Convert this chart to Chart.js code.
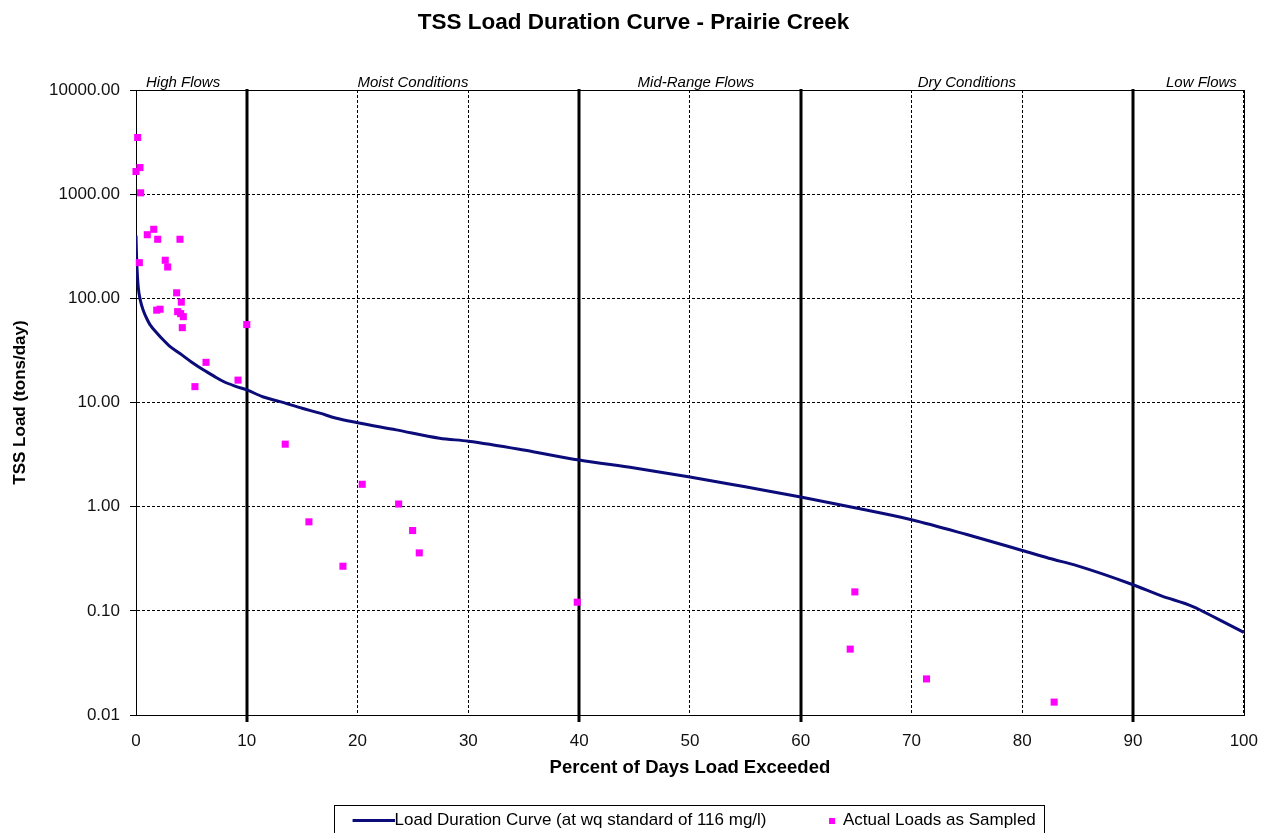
<!DOCTYPE html>
<html><head><meta charset="utf-8">
<script src="https://cdn.jsdelivr.net/npm/chart.js@4"></script>
<style>html,body{margin:0;padding:0;background:#fff}</style>
</head><body>
<canvas id="c" width="1267" height="833"></canvas>
<script>
// ---- data ----
const curvePercent = [0, 0.05, 0.1, 0.2, 0.4, 0.65, 1.0, 1.26, 2.0, 2.45, 3.0, 3.97, 5.0, 6.07, 7.0, 7.9, 9.0, 10.0, 11.5, 13, 15, 16.6, 18, 20, 23.5, 27.4, 30, 35, 40, 45, 50, 55, 60, 65, 70, 75, 80, 82.4, 85, 90, 92.5, 95.4, 97.5, 100];
const curveLoad    = [400, 250, 187, 129, 95, 77, 63, 56, 45, 40, 35, 29.5, 24.5, 20.6, 18, 15.9, 14.3, 13.2, 11.3, 10.2, 8.8, 7.9, 7.1, 6.4, 5.46, 4.54, 4.25, 3.5, 2.8, 2.35, 1.93, 1.55, 1.24, 0.97, 0.75, 0.54, 0.38, 0.32, 0.27, 0.178, 0.14, 0.11, 0.085, 0.062];
const samplePercent = [0.15, 0.0, 0.36, 0.42, 1.02, 1.60, 1.96, 3.97, 0.30, 2.64, 2.86, 3.67, 4.09, 1.87, 2.17, 3.76, 4.03, 4.27, 4.18, 10.0, 6.32, 9.21, 5.32, 13.47, 20.42, 23.71, 15.61, 24.97, 25.57, 18.68, 39.83, 64.89, 64.47, 71.36, 82.88];
const sampleLoad    = [3500, 1650, 1800, 1030, 408, 460, 369, 369, 220, 232, 200, 113, 92, 77, 78.6, 74.5, 71.3, 66.7, 52.3, 56, 24.3, 16.4, 14.2, 3.98, 1.64, 1.06, 0.715, 0.59, 0.36, 0.268, 0.121, 0.152, 0.0429, 0.0222, 0.0133];
const yTickValues = [0.01, 0.1, 1, 10, 100, 1000, 10000];
const xTickValues = [0, 10, 20, 30, 40, 50, 60, 70, 80, 90, 100];
const regionBounds = [0, 10, 40, 60, 90, 100];
const regionNames = ['High Flows', 'Moist Conditions', 'Mid-Range Flows', 'Dry Conditions', 'Low Flows'];
const titleText = 'TSS Load Duration Curve - Prairie Creek';
const xTitle = 'Percent of Days Load Exceeded';
const yTitle = 'TSS Load (tons/day)';
const seriesNames = ['Load Duration Curve (at wq standard of 116 mg/l)', 'Actual Loads as Sampled'];

// ---- styles ----
const FONT = '"Liberation Sans", Arial, sans-serif';
Chart.defaults.font.family = FONT;
Chart.defaults.color = '#000';
const NAVY = '#0b0b7a';
const MAGENTA = '#ff00ff';

function makeLineImg() {
  const c = document.createElement('canvas'); c.width = 59; c.height = 3;
  const g = c.getContext('2d'); g.fillStyle = NAVY; g.fillRect(17, 0, 42, 3); return c;
}
function makeSquareImg() {
  const c = document.createElement('canvas'); c.width = 59; c.height = 7;
  const g = c.getContext('2d'); g.fillStyle = MAGENTA; g.fillRect(45, 1, 6, 6); return c;
}
const legendImgs = [makeLineImg(), makeSquareImg()];

const overlay = {
  id: 'overlay',
  beforeDatasetsDraw(chart) {
    const {ctx, chartArea: a, scales: {x}} = chart;
    ctx.save();
    ctx.strokeStyle = '#000'; ctx.lineWidth = 3;
    for (let i = 1; i < regionBounds.length - 1; i++) {
      const px = Math.round(x.getPixelForValue(regionBounds[i]));
      ctx.beginPath(); ctx.moveTo(px, a.top - 1); ctx.lineTo(px, a.bottom + 7); ctx.stroke();
    }
    ctx.lineWidth = 1;
    ctx.strokeRect(Math.round(a.left) + 0.5, Math.round(a.top) + 0.5, Math.round(a.right - a.left), Math.round(a.bottom - a.top));
    // region labels
    ctx.font = 'italic 15px ' + FONT; ctx.fillStyle = '#000'; ctx.textBaseline = 'middle';
    for (let i = 0; i < regionNames.length; i++) {
      let px, align;
      if (i === 0) { px = x.getPixelForValue(regionBounds[0]) + 10; align = 'left'; }
      else if (i === regionNames.length - 1) { px = x.getPixelForValue(regionBounds[i + 1]) - 7; align = 'right'; }
      else { px = x.getPixelForValue((regionBounds[i] + regionBounds[i + 1]) / 2) + (i === 2 ? 6 : 0); align = 'center'; }
      ctx.textAlign = align;
      ctx.fillText(regionNames[i], px, a.top - 7);
    }
    ctx.restore();
  },
  afterDraw(chart) {
    const lg = chart.legend;
    if (!lg || !lg.legendHitBoxes || !lg.legendHitBoxes.length) return;
    const hb = lg.legendHitBoxes;
    const l = hb[0].left - 10, r = hb[hb.length - 1].left + hb[hb.length - 1].width + 8;
    const t = hb[0].top - 7;
    const ctx = chart.ctx;
    ctx.save(); ctx.strokeStyle = '#000'; ctx.lineWidth = 1;
    ctx.strokeRect(Math.round(l) + 0.5, Math.round(t) + 0.5, Math.round(r - l), chart.height + 10);
    ctx.restore();
  }
};

new Chart(document.getElementById('c'), {
  type: 'scatter',
  data: {
    datasets: [
      {
        label: seriesNames[0], type: 'line',
        data: curvePercent.map((p, i) => ({x: p, y: curveLoad[i]})),
        borderColor: NAVY, backgroundColor: NAVY, borderWidth: 3,
        pointRadius: 0, cubicInterpolationMode: 'monotone', fill: false, order: 2
      },
      {
        label: seriesNames[1],
        data: samplePercent.map((p, i) => ({x: p, y: sampleLoad[i]})),
        pointStyle: 'rect', pointRadius: 5, backgroundColor: MAGENTA, borderColor: MAGENTA, borderWidth: 0,
        clip: false, order: 1
      }
    ]
  },
  options: {
    responsive: false, animation: false, devicePixelRatio: 1,
    layout: {padding: {left: 0, right: 0, top: 0, bottom: -6}},
    plugins: {
      title: {display: true, text: titleText, font: {size: 22.5, weight: 'bold'}, color: '#000',
              padding: {top: 9, bottom: 54}},
      tooltip: {enabled: false},
      legend: {
        position: 'bottom', fullSize: false,
        labels: {
          usePointStyle: true, pointStyleWidth: 42, padding: 26,
          font: {size: 17}, color: '#000',
          generateLabels: (chart) => chart.data.datasets.map((ds, i) => ({
            text: ds.label, pointStyle: legendImgs[i], datasetIndex: i,
            fillStyle: ds.backgroundColor, strokeStyle: ds.borderColor, lineWidth: 0, hidden: false
          }))
        }
      }
    },
    scales: {
      x: {
        type: 'linear', min: 0, max: 100,
        afterBuildTicks: (s) => { s.ticks = xTickValues.map(v => ({value: v})); },
        afterFit: (s) => { s.height = 71; },
        ticks: {font: {size: 17}, color: '#111', padding: 9, maxRotation: 0, autoSkip: false},
        grid: {color: '#000', lineWidth: 1, drawTicks: true, tickLength: 7, tickColor: 'rgba(0,0,0,0)'},
        border: {display: true, color: '#000', width: 1, dash: [3, 2]},
        title: {display: true, text: xTitle, font: {size: 18.5, weight: 'bold'}, color: '#000', padding: {top: 0, bottom: 7}}
      },
      y: {
        type: 'logarithmic', min: 0.01, max: 10000,
        afterBuildTicks: (s) => { s.ticks = yTickValues.map(v => ({value: v})); },
        afterFit: (s) => { s.width = 136; },
        ticks: {font: {size: 17}, color: '#111', padding: 10, callback: (v) => Number(v).toFixed(2), autoSkip: false},
        grid: {color: '#000', lineWidth: 1, drawTicks: true, tickLength: 6, tickColor: '#000', tickBorderDash: []},
        border: {display: true, color: '#000', width: 1, dash: [3, 2]},
        title: {display: true, text: yTitle, font: {size: 17, weight: 'bold'}, color: '#000', padding: {top: 10, bottom: 0}}
      }
    }
  },
  plugins: [overlay]
});
</script>
</body></html>
